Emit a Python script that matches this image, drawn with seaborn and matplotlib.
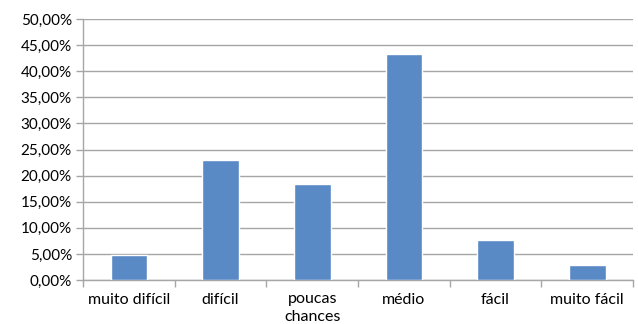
import matplotlib
matplotlib.use("Agg")
import matplotlib.pyplot as plt
import seaborn as sns
import pandas as pd
import numpy as np
from matplotlib.ticker import FuncFormatter, FixedLocator

categorias = ["muito difícil", "difícil", "poucas\nchances", "médio", "fácil", "muito fácil"]
percentuais = [4.8, 23.0, 18.4, 43.3, 7.7, 2.9]
yticks = [0, 5, 10, 15, 20, 25, 30, 35, 40, 45, 50]

df = pd.DataFrame({"categoria": categorias, "percentual": percentuais})

sns.set_theme(style="white")
plt.rcParams["font.family"] = ["Lato", "DejaVu Sans"]

fig = plt.figure(figsize=(6.38, 3.24), dpi=100)
ax = fig.add_axes([83 / 638, 1 - 280 / 324, 550 / 638, 261 / 324])

sns.barplot(data=df, x="categoria", y="percentual", color="#5A8AC6",
            width=0.4, saturation=1, ax=ax, zorder=3)

ax.set_ylim(0, 50)
ax.set_xlim(-0.5, len(categorias) - 0.5)
ax.set_yticks(yticks)
ax.yaxis.set_major_formatter(FuncFormatter(lambda v, p: f"{v:.2f}%".replace(".", ",")))
ax.grid(axis="y", color="#A6A6A6", linewidth=1.0, zorder=0)
ax.set_axisbelow(True)

ax.set_xlabel("")
ax.set_ylabel("")

for s in ["top", "right"]:
    ax.spines[s].set_visible(False)
for s in ["left", "bottom"]:
    ax.spines[s].set_color("#A6A6A6")
    ax.spines[s].set_linewidth(1.0)

ax.xaxis.set_minor_locator(FixedLocator(np.arange(-0.5, len(categorias), 1.0)))
ax.tick_params(axis="x", which="major", length=0, pad=9, labelsize=11.5, colors="#000000")
ax.tick_params(axis="x", which="minor", length=5, width=1, color="#A6A6A6", direction="out", bottom=True)
ax.tick_params(axis="y", which="major", length=5, width=1, color="#A6A6A6", direction="out",
               left=True, labelsize=11, pad=3)
for lbl in ax.get_yticklabels():
    lbl.set_color("#000000")
for lbl in ax.get_xticklabels():
    lbl.set_linespacing(1.35)
    lbl.set_verticalalignment("top")

fig.savefig("out.png", dpi=100)
